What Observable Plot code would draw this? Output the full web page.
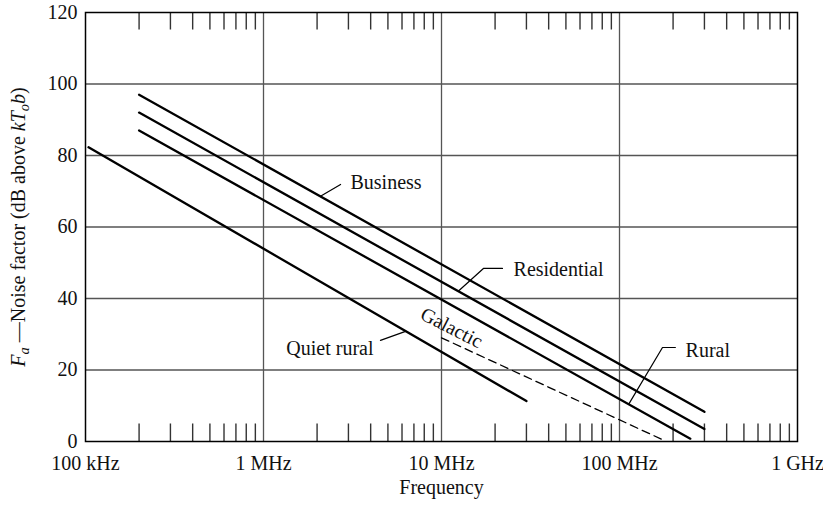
<!DOCTYPE html>
<html>
<head>
<meta charset="utf-8">
<script src="https://cdn.jsdelivr.net/npm/d3@7"></script>
<script src="https://cdn.jsdelivr.net/npm/@observablehq/plot@0.6"></script>
<style>
  body { margin: 0; background: #fff; }
  svg { display: block; }
</style>
</head>
<body>
<div id="chart"></div>
<script>
// Man-made and galactic noise levels. Frequency in MHz, Fa in dB above kT0b.
const business    = [{f: 0.2, db: 97.0}, {f: 300, db: 8.3}];
const residential = [{f: 0.2, db: 92.0}, {f: 300, db: 3.5}];
const rural       = [{f: 0.2, db: 87.0}, {f: 250, db: 0.8}];
const quietRural  = [{f: 0.104, db: 82.3}, {f: 30, db: 11.3}];
const galactic    = [{f: 10, db: 29.0}, {f: 180, db: 0.2}];

// Axis ticks
const xTicks = [0.1, 1, 10, 100, 1000];
const xTickLabels = ["100 kHz", "1 MHz", "10 MHz", "100 MHz", "1 GHz"];
const yTicks = [0, 20, 40, 60, 80, 100, 120];
const gridDb = [20, 40, 60, 80, 100];
const gridFreq = [1, 10, 100];
const decades = [0.1, 1, 10, 100];
const multiples = [2, 3, 4, 5, 6, 7, 8, 9];

// Curve labels and their leader lines (frequency, dB)
const rightLabels = [
  {text: "Business", f: 3.08, db: 72.4},
  {text: "Residential", f: 25.4, db: 48.1},
  {text: "Rural", f: 235, db: 25.5}
];
const leftLabels = [{text: "Quiet rural", f: 4.15, db: 26.0}];
const galacticLabel = [{text: "Galactic", f: 11.4, db: 31.8}];
const leaders = [
  {name: "Business", pts: [[2.09, 68.6], [2.71, 71.9]]},
  {name: "Residential", pts: [[12.46, 42.1], [17.2, 48.4], [22.0, 48.4]]},
  {name: "Rural", pts: [[112.5, 10.4], [174.4, 26.3], [206, 26.3]]},
  {name: "Quiet rural", pts: [[4.54, 28.3], [6.28, 30.8]]}
];

const yTitle = "Fa —Noise factor (dB above kTob)";
const xTitle = "Frequency";

const curves = [
  ...business.map(d => ({...d, name: "Business"})),
  ...residential.map(d => ({...d, name: "Residential"})),
  ...rural.map(d => ({...d, name: "Rural"})),
  ...quietRural.map(d => ({...d, name: "Quiet rural"}))
];
const leaderRows = leaders.flatMap(l => l.pts.map(([f, db]) => ({name: l.name, f, db})));
const minorTicks = decades.flatMap(d => multiples.map(m => d * m));

const serif = "'Liberation Serif', 'Times New Roman', Times, serif";
const fs = 20;
const ink = "#111";

const svg = Plot.plot({
  width: 823,
  height: 506,
  marginLeft: 85,
  marginRight: 26,
  marginTop: 12,
  marginBottom: 65,
  style: {fontFamily: serif, fontSize: fs + "px", color: ink, background: "#fff"},
  x: {type: "log", domain: [0.1, 1000]},
  y: {domain: [0, 120]},
  marks: [
    Plot.ruleY(gridDb, {stroke: "#555", strokeWidth: 1.3}),
    Plot.ruleX(gridFreq, {stroke: "#555", strokeWidth: 1.3}),
    // inward minor ticks along the bottom and top edges
    Plot.ruleX(minorTicks, {y1: 0, y2: 4.9, stroke: "#333", strokeWidth: 1.4}),
    Plot.ruleX(minorTicks, {y1: 115.1, y2: 120, stroke: "#333", strokeWidth: 1.4}),
    Plot.line(curves, {x: "f", y: "db", z: "name", stroke: "#000", strokeWidth: 2.3}),
    Plot.line(galactic, {x: "f", y: "db", stroke: "#000", strokeWidth: 1.3, strokeDasharray: "8,5"}),
    Plot.line(leaderRows, {x: "f", y: "db", z: "name", stroke: "#000", strokeWidth: 1.2}),
    Plot.text(rightLabels, {x: "f", y: "db", text: "text", textAnchor: "start", fontSize: fs, fill: ink}),
    Plot.text(leftLabels, {x: "f", y: "db", text: "text", textAnchor: "end", fontSize: fs, fill: ink}),
    Plot.text(galacticLabel, {x: "f", y: "db", text: "text", rotate: 27, fontSize: fs, fill: ink}),
    Plot.frame({stroke: "#000", strokeWidth: 1.5}),
    Plot.axisY({ticks: yTicks, tickSize: 0, tickPadding: 8, label: null, fontSize: fs}),
    Plot.axisX({ticks: xTicks, tickFormat: d => xTickLabels[xTicks.indexOf(d)], tickSize: 0, tickPadding: 14, label: null, fontSize: fs}),
    Plot.text([yTitle], {frameAnchor: "left", rotate: -90, dx: -67, fontSize: fs, fill: ink}),
    Plot.text([xTitle], {frameAnchor: "bottom", dy: 52, fontSize: fs, fill: ink})
  ]
});

document.getElementById("chart").appendChild(svg);

// Typeset the y-axis title with italic symbols and subscripts, then centre it
d3.select(svg).selectAll("text")
  .filter(function () { return this.textContent === yTitle; })
  .each(function () {
    const t = d3.select(this);
    t.text(null);
    const parts = [
      {s: "F", it: true},
      {s: "a", it: true, sub: true},
      {s: " —Noise factor (dB above "},
      {s: "kT", it: true},
      {s: "o", it: true, sub: true},
      {s: "b", it: true},
      {s: ")"}
    ];
    let shifted = false;
    for (const p of parts) {
      const ts = t.append("tspan").text(p.s);
      if (p.it) ts.attr("font-style", "italic");
      if (p.sub) { ts.attr("dy", "0.28em").attr("font-size", "0.72em"); shifted = true; }
      else if (shifted) { ts.attr("dy", "-0.2em"); shifted = false; }
    }
    const len = this.getComputedTextLength();
    t.attr("text-anchor", "start").attr("x", -len / 2);
  });
</script>
</body>
</html>
